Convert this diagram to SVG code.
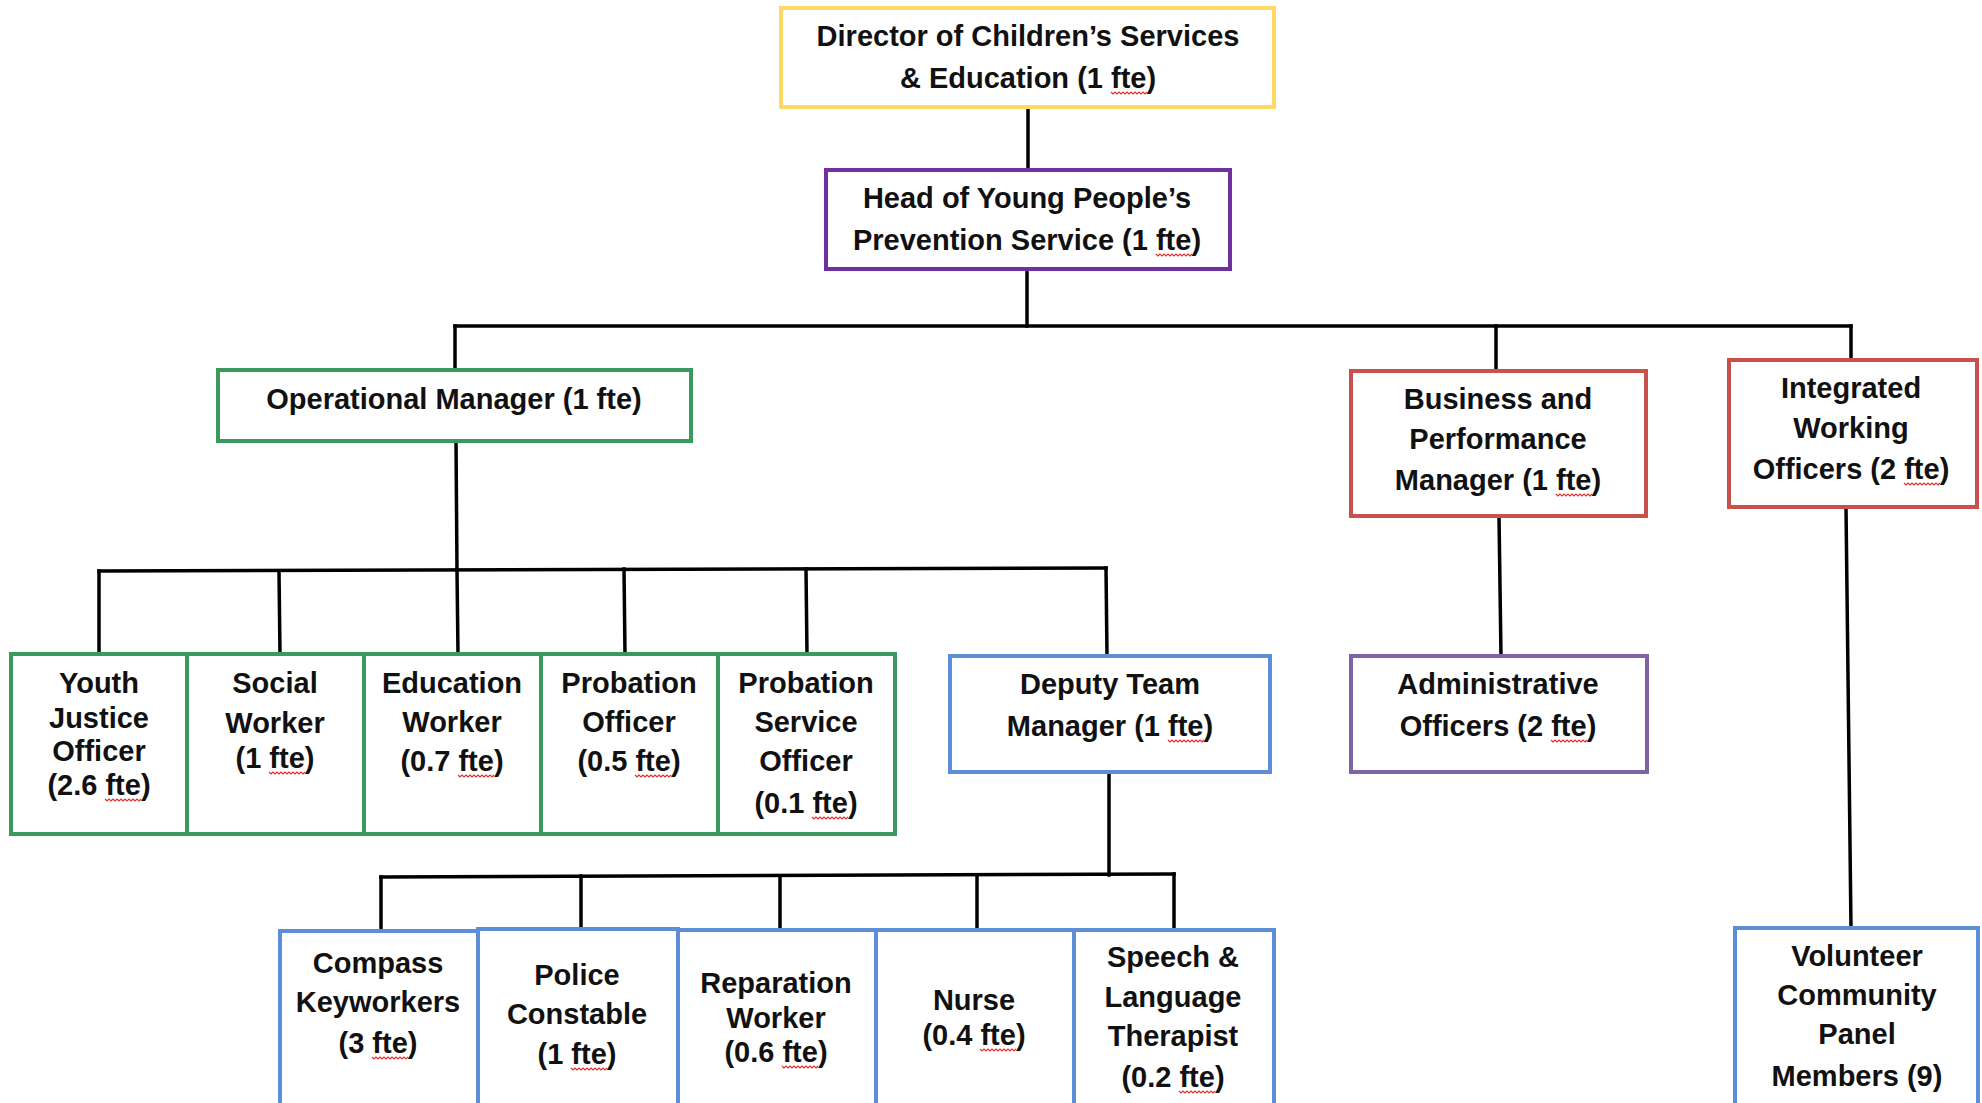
<svg xmlns="http://www.w3.org/2000/svg" width="1982" height="1103" viewBox="0 0 1982 1103">
<style>
  .box { fill: #ffffff; stroke-width: 4; }
  .yel { stroke: #FFD966; }
  .pur { stroke: #7030A0; }
  .grn { stroke: #3A9A5E; }
  .red { stroke: #C8504D; }
  .blu { stroke: #5B8ED6; }
  .lav { stroke: #8064A2; }
  text { font-family: "Liberation Sans", Arial, sans-serif; font-size: 29px; font-weight: bold; fill: #111; text-anchor: middle; }
  .wave { stroke: #E03030; stroke-width: 1.2; fill: none; }
  .conn line { stroke: #000; stroke-width: 3.5; fill: none; stroke-linecap: square; }
</style>
<defs>
  <path id="wv" class="wave" d="M0,0 l2,2 l2,-2 l2,2 l2,-2 l2,2 l2,-2 l2,2 l2,-2 l2,2 l2,-2 l2,2 l2,-2 l2,2 l2,-2 l2,2 l2,-2 l2,2 l2,-2"/>
</defs>
<rect width="1982" height="1103" fill="#ffffff"/>

<g class="conn" id="connectors">
  <line x1="1028" y1="107" x2="1028" y2="170"/>
  <line x1="1027" y1="269" x2="1027" y2="326"/>
  <line x1="455" y1="326" x2="1851" y2="326"/>
  <line x1="455" y1="326" x2="455" y2="370"/>
  <line x1="1496" y1="326" x2="1496" y2="371"/>
  <line x1="1851" y1="326" x2="1851" y2="360"/>
  <line x1="456" y1="441" x2="457" y2="570"/>
  <line x1="99" y1="571" x2="1106" y2="568"/>
  <line x1="99" y1="571" x2="99" y2="654"/>
  <line x1="279" y1="571" x2="280" y2="654"/>
  <line x1="457" y1="570" x2="458" y2="654"/>
  <line x1="624" y1="569" x2="625" y2="654"/>
  <line x1="806" y1="569" x2="807" y2="654"/>
  <line x1="1106" y1="568" x2="1107" y2="656"/>
  <line x1="1499" y1="516" x2="1501" y2="656"/>
  <line x1="1846" y1="507" x2="1851" y2="928"/>
  <line x1="1109" y1="772" x2="1109" y2="875"/>
  <line x1="381" y1="877" x2="1174" y2="874"/>
  <line x1="381" y1="877" x2="381" y2="931"/>
  <line x1="581" y1="876" x2="581" y2="930"/>
  <line x1="780" y1="876" x2="780" y2="930"/>
  <line x1="977" y1="875" x2="977" y2="930"/>
  <line x1="1174" y1="874" x2="1174" y2="930"/>
</g>

<g id="director">
  <rect class="box yel" x="781" y="8" width="493" height="99"/>
  <text x="1028" y="46">Director of Children’s Services</text>
  <text x="1028" y="88">&amp; Education (1 fte)</text>
  <use href="#wv" x="1111" y="92"/>
</g>
<g id="head">
  <rect class="box pur" x="826" y="170" width="404" height="99"/>
  <text x="1027" y="208">Head of Young People’s</text>
  <text x="1027" y="250">Prevention Service (1 fte)</text>
  <use href="#wv" x="1156" y="254"/>
</g>
<g id="operational-manager">
  <rect class="box grn" x="218" y="370" width="473" height="71"/>
  <text x="454" y="409">Operational Manager (1 fte)</text>
</g>
<g id="business-manager">
  <rect class="box red" x="1351" y="371" width="295" height="145"/>
  <text x="1498" y="409">Business and</text>
  <text x="1498" y="449">Performance</text>
  <text x="1498" y="490">Manager (1 fte)</text>
  <use href="#wv" x="1556" y="494"/>
</g>
<g id="integrated-officers">
  <rect class="box red" x="1729" y="360" width="248" height="147"/>
  <text x="1851" y="398">Integrated</text>
  <text x="1851" y="438">Working</text>
  <text x="1851" y="479">Officers (2 fte)</text>
  <use href="#wv" x="1904" y="483"/>
</g>

<g id="youth-justice-officer">
  <rect class="box grn" x="11" y="654" width="176" height="180"/>
  <text x="99" y="693">Youth</text>
  <text x="99" y="728">Justice</text>
  <text x="99" y="761">Officer</text>
  <text x="99" y="795">(2.6 fte)</text>
  <use href="#wv" x="105" y="799"/>
</g>
<g id="social-worker">
  <rect class="box grn" x="187" y="654" width="177" height="180"/>
  <text x="275" y="693">Social</text>
  <text x="275" y="733">Worker</text>
  <text x="275" y="768">(1 fte)</text>
  <use href="#wv" x="269" y="772"/>
</g>
<g id="education-worker">
  <rect class="box grn" x="364" y="654" width="177" height="180"/>
  <text x="452" y="693">Education</text>
  <text x="452" y="732">Worker</text>
  <text x="452" y="771">(0.7 fte)</text>
  <use href="#wv" x="458" y="775"/>
</g>
<g id="probation-officer">
  <rect class="box grn" x="541" y="654" width="177" height="180"/>
  <text x="629" y="693">Probation</text>
  <text x="629" y="732">Officer</text>
  <text x="629" y="771">(0.5 fte)</text>
  <use href="#wv" x="635" y="775"/>
</g>
<g id="probation-service-officer">
  <rect class="box grn" x="718" y="654" width="177" height="180"/>
  <text x="806" y="693">Probation</text>
  <text x="806" y="732">Service</text>
  <text x="806" y="771">Officer</text>
  <text x="806" y="813">(0.1 fte)</text>
  <use href="#wv" x="812" y="817"/>
</g>

<g id="deputy-team-manager">
  <rect class="box blu" x="950" y="656" width="320" height="116"/>
  <text x="1110" y="694">Deputy Team</text>
  <text x="1110" y="736">Manager (1 fte)</text>
  <use href="#wv" x="1168" y="740"/>
</g>
<g id="administrative-officers">
  <rect class="box lav" x="1351" y="656" width="296" height="116"/>
  <text x="1498" y="694">Administrative</text>
  <text x="1498" y="736">Officers (2 fte)</text>
  <use href="#wv" x="1551" y="740"/>
</g>

<g id="compass-keyworkers">
  <rect class="box blu" x="280" y="931" width="198" height="180"/>
  <text x="378" y="973">Compass</text>
  <text x="378" y="1012">Keyworkers</text>
  <text x="378" y="1053">(3 fte)</text>
  <use href="#wv" x="372" y="1057"/>
</g>
<g id="police-constable">
  <rect class="box blu" x="478" y="929" width="200" height="182"/>
  <text x="577" y="985">Police</text>
  <text x="577" y="1024">Constable</text>
  <text x="577" y="1064">(1 fte)</text>
  <use href="#wv" x="571" y="1068"/>
</g>
<g id="reparation-worker">
  <rect class="box blu" x="678" y="930" width="198" height="181"/>
  <text x="776" y="993">Reparation</text>
  <text x="776" y="1028">Worker</text>
  <text x="776" y="1062">(0.6 fte)</text>
  <use href="#wv" x="782" y="1066"/>
</g>
<g id="nurse">
  <rect class="box blu" x="876" y="930" width="198" height="181"/>
  <text x="974" y="1010">Nurse</text>
  <text x="974" y="1045">(0.4 fte)</text>
  <use href="#wv" x="980" y="1049"/>
</g>
<g id="speech-language-therapist">
  <rect class="box blu" x="1074" y="930" width="200" height="181"/>
  <text x="1173" y="967">Speech &amp;</text>
  <text x="1173" y="1007">Language</text>
  <text x="1173" y="1046">Therapist</text>
  <text x="1173" y="1087">(0.2 fte)</text>
  <use href="#wv" x="1179" y="1091"/>
</g>
<g id="volunteer-panel">
  <rect class="box blu" x="1735" y="928" width="243" height="183"/>
  <text x="1857" y="966">Volunteer</text>
  <text x="1857" y="1005">Community</text>
  <text x="1857" y="1044">Panel</text>
  <text x="1857" y="1086">Members (9)</text>
</g>
</svg>
